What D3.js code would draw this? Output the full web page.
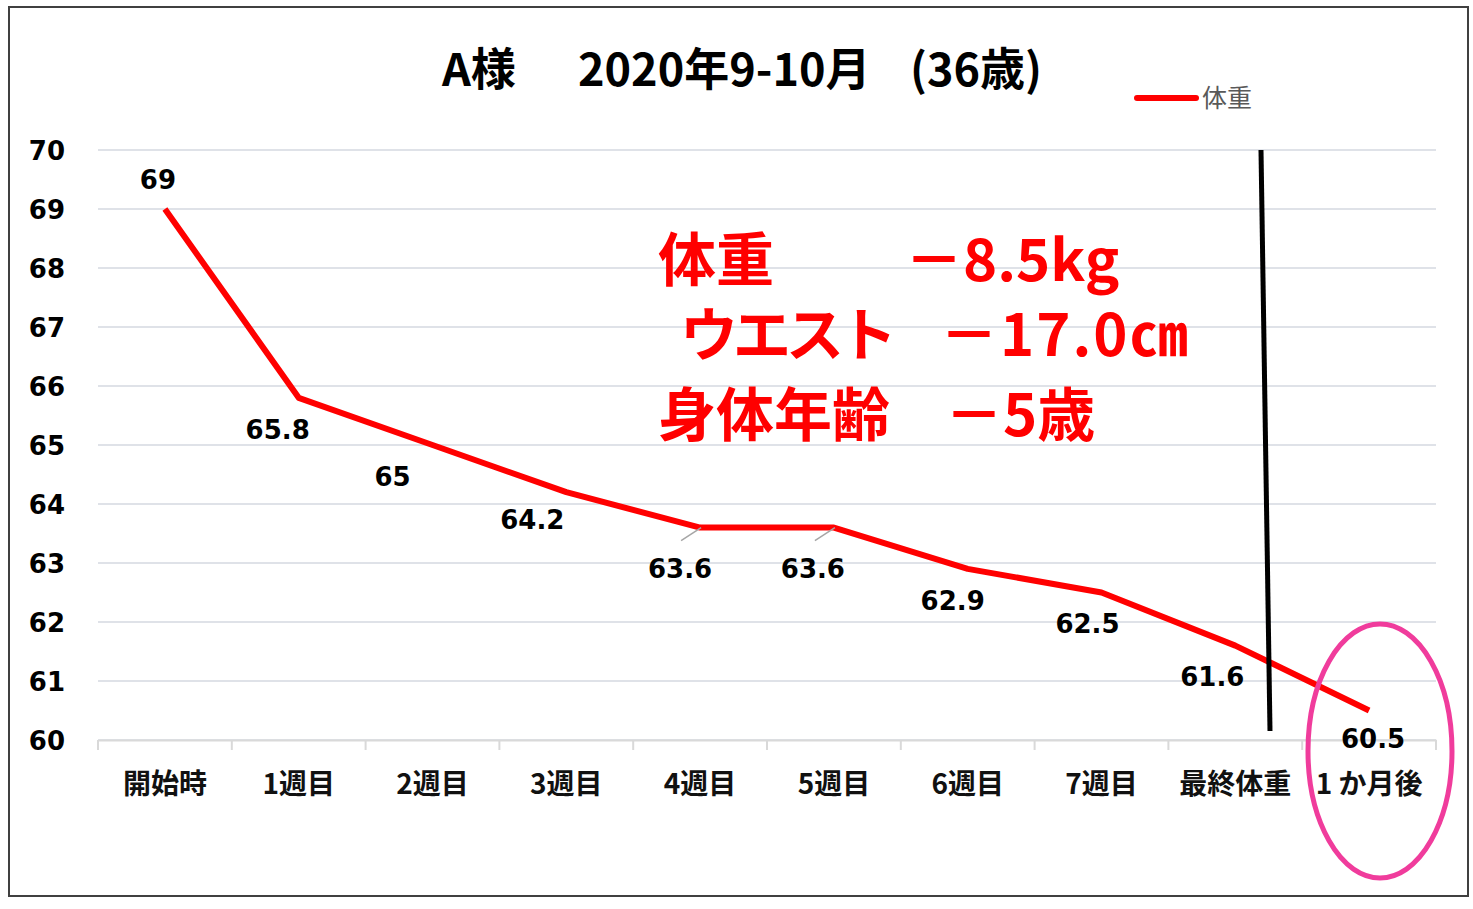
<!DOCTYPE html>
<html><head><meta charset="utf-8">
<script src="https://cdn.jsdelivr.net/npm/d3@7"></script>
<style>body{margin:0;background:#fff;}svg{display:block;}</style>
</head><body>
<script>
const categories = ["開始時","1週目","2週目","3週目","4週目","5週目","6週目","7週目","最終体重","1 か月後"];
const weights = [69, 65.8, 65, 64.2, 63.6, 63.6, 62.9, 62.5, 61.6, 60.5];
const yTicks = [60,61,62,63,64,65,66,67,68,69,70];
const seriesName = "体重";
const titleParts = ["A様", "2020年9-10月", "(36歳)"];
const noteLines = [["体重","－8.5kg"],["ウエスト","－17.0㎝"],["身体年齢","－5歳"]];
// label offsets (layout only)
const labelOffsets = [[-7,-29],[-21,32],[-40,32],[-34,28],[-20,41],[-21,41],[-15,32],[-14,31],[-23,31],[4,28]];
const leaderLines = [false,false,false,false,true,true,false,false,false,false];

const W=1473,H=909;
const svg=d3.select("body").append("svg").attr("width",W).attr("height",H);
svg.append("rect").attr("x",9).attr("y",7).attr("width",1459).attr("height",889)
  .attr("fill","#fff").attr("stroke","#404040").attr("stroke-width",2);

const x=d3.scaleBand().domain(categories).range([98,1436]);
const y=d3.scaleLinear().domain([60,70]).range([740,150]);

// gridlines
svg.append("g").selectAll("line").data(yTicks).join("line")
  .attr("x1",98).attr("x2",1436).attr("y1",d=>y(d)).attr("y2",d=>y(d))
  .attr("stroke","#dfe2e8").attr("stroke-width",2);

// y axis labels
const yAxis=svg.append("g").attr("transform","translate(65,0)")
  .call(d3.axisLeft(y).tickValues(yTicks).tickSize(0).tickPadding(0).tickFormat(d3.format("d")));
yAxis.select(".domain").remove();
yAxis.selectAll("text").attr("font-family","DejaVu Sans").attr("font-weight","bold")
  .attr("font-size",26).attr("fill","#000").attr("dy","0.36em");

// x axis
const xAxis=svg.append("g").attr("transform","translate(0,740)")
  .call(d3.axisBottom(x).tickSize(0).tickPadding(44));
xAxis.select(".domain").attr("stroke","#d9d9d9").attr("stroke-width",2);
xAxis.selectAll("text").attr("font-family","Noto Sans CJK JP").attr("font-weight","bold")
  .attr("font-size",28).attr("fill","#111").attr("dy","0.36em");
const bounds=categories.map(c=>x(c)).concat([x.range()[1]]);
xAxis.append("g").selectAll("line").data(bounds).join("line")
  .attr("x1",d=>d).attr("x2",d=>d).attr("y1",0).attr("y2",10)
  .attr("stroke","#d9d9d9").attr("stroke-width",2);

const cx=d=>x(d)+x.bandwidth()/2;

// line
const line=d3.line().x((d,i)=>cx(categories[i])).y(d=>y(d));
svg.append("path").datum(weights).attr("d",line)
  .attr("fill","none").attr("stroke","#ff0000").attr("stroke-width",6).attr("stroke-linejoin","round");

// leader lines
weights.forEach((v,i)=>{
  if(!leaderLines[i]) return;
  const px=cx(categories[i]), py=y(v);
  svg.append("line").attr("x1",px-19).attr("y1",py+13).attr("x2",px+1).attr("y2",py)
    .attr("stroke","#a6a6a6").attr("stroke-width",1.5);
});

// data labels
svg.append("g").selectAll("text").data(weights).join("text")
  .attr("x",(d,i)=>cx(categories[i])+labelOffsets[i][0])
  .attr("y",(d,i)=>y(d)+labelOffsets[i][1])
  .attr("text-anchor","middle").attr("dominant-baseline","central")
  .attr("font-family","DejaVu Sans").attr("font-weight","bold").attr("font-size",26).attr("fill","#000")
  .text(d=>d);

// title
const tf={"font-family":"Noto Sans CJK JP","font-weight":"bold","font-size":45,"fill":"#000"};
[[442,titleParts[0]],[578,titleParts[1]],[910,titleParts[2]]].forEach(([tx,t])=>{
  const el=svg.append("text").attr("x",tx).attr("y",86).text(t);
  Object.entries(tf).forEach(([k,v])=>el.attr(k,v));
});

// legend
svg.append("line").attr("x1",1137).attr("x2",1196).attr("y1",98).attr("y2",98)
  .attr("stroke","#ff0000").attr("stroke-width",6).attr("stroke-linecap","round");
svg.append("text").attr("x",1202).attr("y",107).text(seriesName)
  .attr("font-family","Noto Sans CJK JP").attr("font-size",25).attr("fill","#595959");

// annotation
const notePos=[[[658,281],[905,281]],[[680,356],[940,356]],[[658,436],[945,436]]];
const noteSpacing=[[0,0],[-5,2],[0,0]];
noteLines.forEach((ln,i)=>{
  ln.forEach((t,j)=>{
    svg.append("text").attr("x",notePos[i][j][0]).attr("y",notePos[i][j][1]).text(t)
      .attr("font-family","Noto Sans CJK JP").attr("font-weight","bold").attr("font-size",58)
      .attr("letter-spacing",noteSpacing[i][j])
      .attr("fill","#ff0000");
  });
});

// black vertical line
svg.append("line").attr("x1",1261).attr("y1",150).attr("x2",1270).attr("y2",731)
  .attr("stroke","#000").attr("stroke-width",5);

// pink ellipse
svg.append("ellipse").attr("cx",1380).attr("cy",751).attr("rx",72).attr("ry",127)
  .attr("fill","none").attr("stroke","#f03c9c").attr("stroke-width",5);
</script>
</body></html>
